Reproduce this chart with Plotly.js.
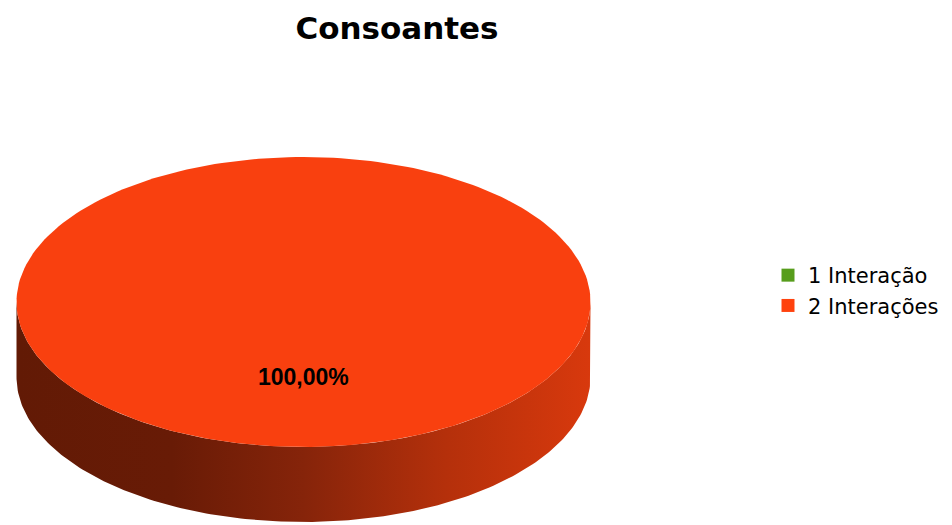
<!DOCTYPE html>
<html><head><meta charset="utf-8">
<script src="https://cdn.plot.ly/plotly-3.0.1.min.js"></script>
<style>html,body{margin:0;padding:0;background:#fff}#chart{width:952px;height:525px}</style>
</head><body><div id="chart"></div>
<script>
// ---- data ----
const categories = ["1 Interação", "2 Interações"];
const values = [0, 100];
const legendColors = ["#579d1c", "#ff420e"];
const topColors = ["#56991b", "#f9400f"];
const sideScales = [
  [[0, "#1f3a0a"], [0.27, "#213d0b"], [0.5, "#2c5210"], [0.75, "#3c6f15"], [1, "#487f18"]],
  [[0, "#621a05"], [0.27, "#681b06"], [0.5, "#86240a"], [0.75, "#b5300b"], [1, "#d8390d"]]
];
const chartTitle = "Consoantes";

// ---- geometry (layout, in pixel-like axis units) ----
const cx = 303.5, cy = 302, rx = 287, ry = 145, depth = 75;
const startAngle = Math.PI / 2;
const N = 240;

const total = values.reduce((a, b) => a + b, 0);
const traces = [];
const tops = [];
const annotations = [];

function pt(a, dy) { return [cx + rx * Math.cos(a), cy - ry * Math.sin(a) + (dy || 0)]; }

let acc = 0;
values.forEach((v, i) => {
  const frac = v / total;
  const a0 = startAngle - 2 * Math.PI * acc;
  const a1 = startAngle - 2 * Math.PI * (acc + frac);
  acc += frac;
  if (frac <= 0) return;
  // top sector
  const xs = [], ys = [];
  const steps = Math.max(2, Math.round(N * frac));
  if (frac < 1) { xs.push(cx); ys.push(cy); }
  for (let k = 0; k <= steps; k++) {
    const a = a0 + (a1 - a0) * k / steps;
    const p = pt(a); xs.push(p[0]); ys.push(p[1]);
  }
  if (frac < 1) { xs.push(cx); ys.push(cy); }
  tops.push({type: "scatter", mode: "lines", x: xs, y: ys, fill: "toself",
    fillcolor: topColors[i], line: {width: 0, color: topColors[i]},
    hoverinfo: "skip", showlegend: false});
  // side (front part: angles where sin < 0)
  let lo = Math.min(a0, a1), hi = Math.max(a0, a1);
  for (let k = -2; k <= 2; k++) {
    const f0 = -Math.PI + 2 * Math.PI * k, f1 = 0 + 2 * Math.PI * k;
    const b0 = Math.max(lo, f0), b1 = Math.min(hi, f1);
    if (b1 > b0) {
      const sx = [], sy = [];
      const st = 200;
      for (let j = 0; j <= st; j++) { const p = pt(b0 + (b1 - b0) * j / st); sx.push(p[0]); sy.push(p[1]); }
      for (let j = st; j >= 0; j--) { const p = pt(b0 + (b1 - b0) * j / st, depth); sx.push(p[0]); sy.push(p[1]); }
      traces.push({type: "scatter", mode: "lines", x: sx, y: sy, fill: "toself",
        fillgradient: {type: "horizontal", colorscale: sideScales[i], start: cx - rx, stop: cx + rx},
        line: {width: 0}, hoverinfo: "skip", showlegend: false});
    }
  }
  // label
  let lx, ly;
  if (frac >= 1) { lx = cx; ly = cy + depth; }
  else { const am = (a0 + a1) / 2; lx = cx + 0.6 * rx * Math.cos(am); ly = cy - 0.6 * ry * Math.sin(am); }
  annotations.push({x: lx, y: ly, xref: "x", yref: "y", showarrow: false,
    text: "<b>" + (frac * 100).toFixed(2).replace(".", ",") + "%</b>",
    font: {family: "Liberation Sans, Arial, sans-serif", size: 23, color: "#000"}});
});

const legendTraces = categories.map((c, i) => ({
  type: "scatter", mode: "markers", x: [null], y: [null], name: c,
  marker: {symbol: "square", size: 13, color: legendColors[i]}, hoverinfo: "skip", showlegend: true
}));

const data = traces.concat(tops, legendTraces);

const layout = {
  width: 952, height: 525,
  margin: {l: 0, r: 0, t: 0, b: 0},
  paper_bgcolor: "#fff", plot_bgcolor: "#fff",
  title: {text: "<b>" + chartTitle + "</b>", x: 397 / 952, xanchor: "center", xref: "paper",
    y: 1 - 28 / 525, yref: "container", yanchor: "middle",
    font: {family: "DejaVu Sans, sans-serif", size: 31, color: "#000"}},
  xaxis: {range: [0, 952], visible: false, fixedrange: true},
  yaxis: {range: [525, 0], visible: false, fixedrange: true},
  showlegend: true,
  legend: {x: 768 / 952, y: 1 - 255 / 525, xanchor: "left", yanchor: "top",
    font: {family: "DejaVu Sans, sans-serif", size: 21, color: "#000"},
    bgcolor: "rgba(0,0,0,0)", borderwidth: 0},
  annotations: annotations,
  hovermode: false
};

Plotly.newPlot("chart", data, layout, {staticPlot: true, displayModeBar: false});
</script>
</body></html>
